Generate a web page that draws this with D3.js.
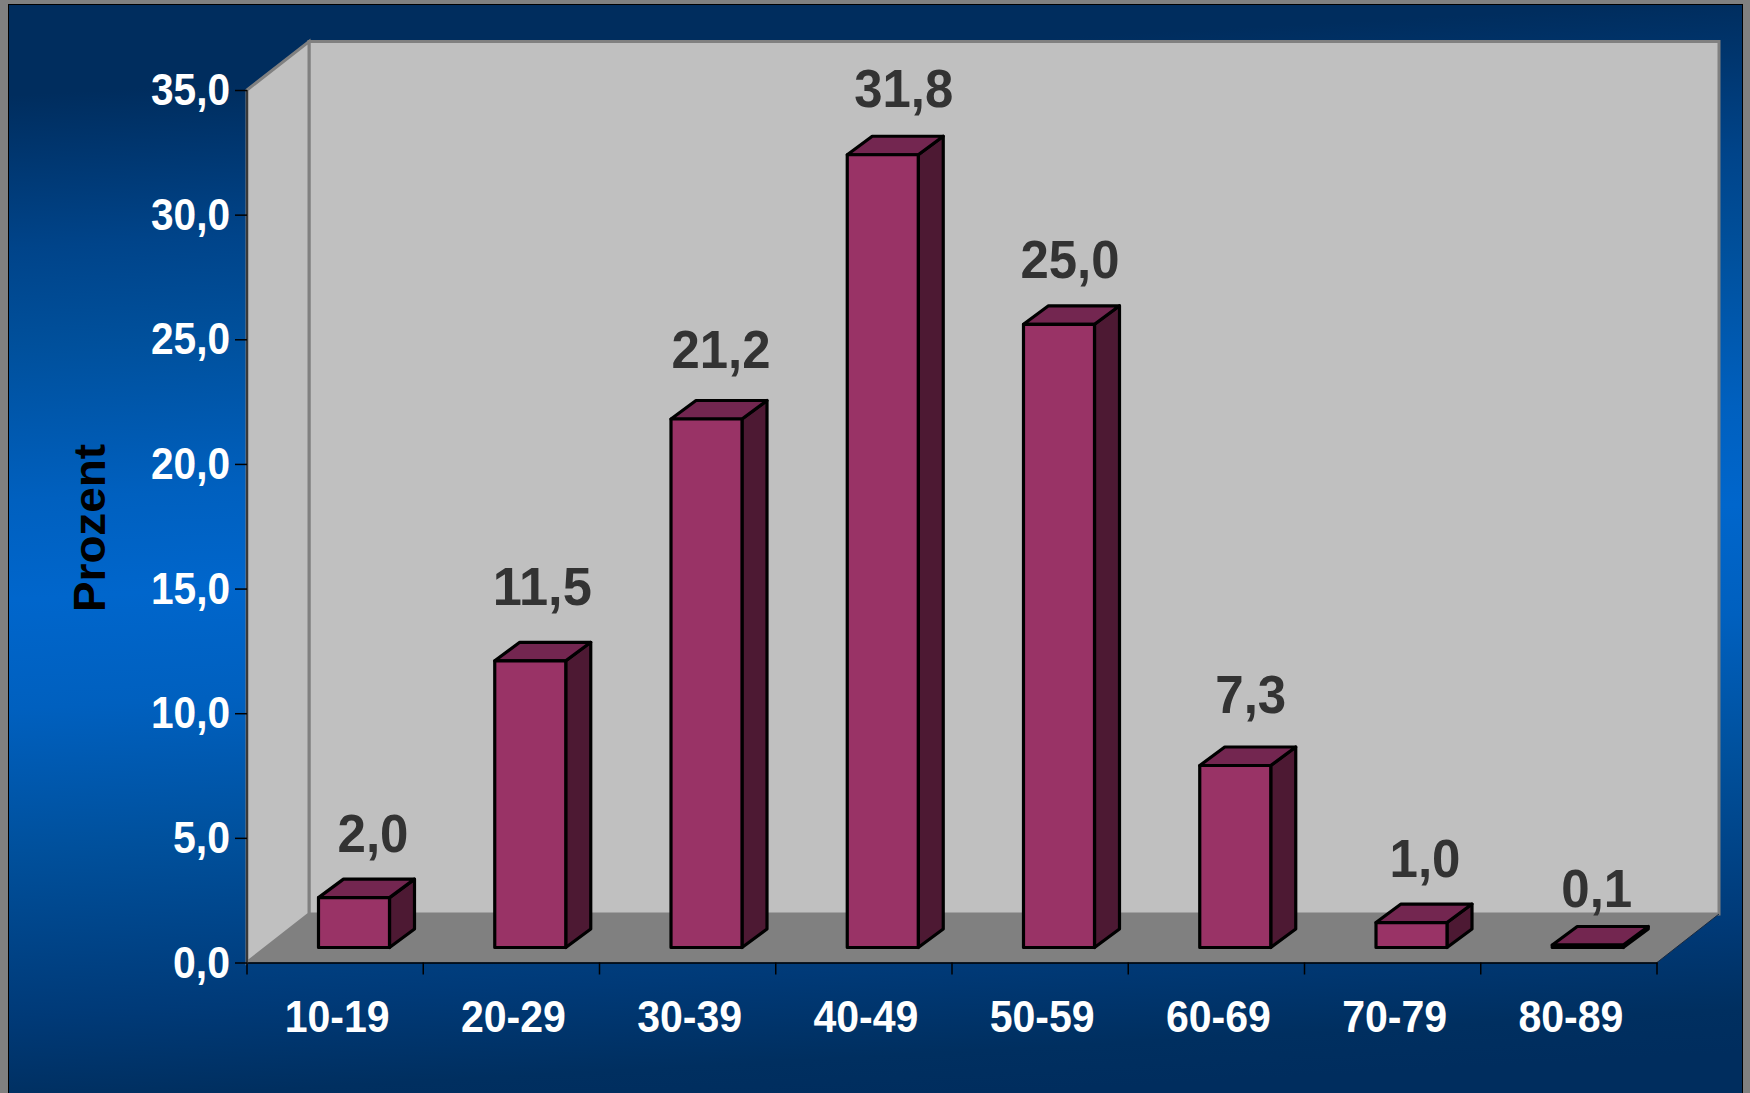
<!DOCTYPE html>
<html><head><meta charset="utf-8">
<script src="https://cdn.jsdelivr.net/npm/d3@7"></script>
<style>html,body{margin:0;padding:0;background:#808080;overflow:hidden}svg{display:block}
text{font-family:"Liberation Sans",Arial,sans-serif;font-weight:bold}</style></head>
<body><svg id="c" width="1750" height="1093"></svg>
<script>
const categories=["10-19","20-29","30-39","40-49","50-59","60-69","70-79","80-89"];
const values=[2.0,11.5,21.2,31.8,25.0,7.3,1.0,0.1];
const yTicks=[0,5,10,15,20,25,30,35];
const yTitle="Prozent";
const fmt=v=>v.toFixed(1).replace(".",",");

// hand placement of the value labels relative to their default spot
const labelShiftX=[0,-7,-4.5,2,-8,-3.5,-5.5,-10];
const labelShiftY=[0,-10,-5.5,-2,0,-6.5,0,8];

const svg=d3.select("#c");
const defs=svg.append("defs");
const g=defs.append("linearGradient").attr("id","bg").attr("gradientUnits","userSpaceOnUse")
  .attr("x1",845).attr("y1",5.5).attr("x2",905).attr("y2",1098.5);
[[0.04,"#002d5e"],[0.18,"#00448a"],[0.27,"#00509c"],[0.41,"#0060bf"],[0.5,"#0066cc"],[0.6,"#0060bf"],[0.73,"#00509c"],[0.88,"#003a78"],[0.96,"#002f60"],[1,"#002d5e"]]
  .forEach(s=>g.append("stop").attr("offset",s[0]).attr("stop-color",s[1]));

svg.append("rect").attr("x",8.5).attr("y",4.5).attr("width",1734).attr("height",1100).attr("fill","url(#bg)").attr("stroke","#000").attr("stroke-width",1);

const x0=247,x1=1657,dx=62,dy=-48.5;
const xScale=d3.scaleBand().domain(categories).range([x0,x1]);
const yAxisScale=d3.scaleLinear().domain([0,35]).range([962.5,90]);
const yBar=d3.scaleLinear().domain([0,35]).range([947.5,75]);
const y0=yAxisScale(0),yT=yAxisScale(35);

const poly=(pts,fill,stroke,sw)=>svg.append("polygon").attr("points",pts.map(p=>p.join(",")).join(" ")).attr("fill",fill).attr("stroke",stroke||"none").attr("stroke-width",sw||0).attr("stroke-linejoin","miter");
// walls and floor
poly([[x0+dx,yT+dy],[x1+dx,yT+dy],[x1+dx,y0+dy],[x0+dx,y0+dy]],"#c0c0c0","#808080",3);
poly([[x0,yT],[x0+dx,yT+dy],[x0+dx,y0+dy],[x0,y0]],"#c0c0c0","#808080",3);
poly([[x0,y0],[x0+dx,y0+dy],[x1+dx,y0+dy],[x1,y0]],"#808080");
svg.append("line").attr("x1",x1).attr("y1",y0).attr("x2",x1+dx).attr("y2",y0+dy).attr("stroke","#1a2a40").attr("stroke-width",1);
svg.append("line").attr("x1",x0).attr("y1",yT).attr("x2",x0).attr("y2",y0).attr("stroke","#222").attr("stroke-width",1.5);

// axes
const ax=svg.append("g").attr("transform",`translate(${x0},0)`).call(d3.axisLeft(yAxisScale).tickValues(yTicks).tickSize(12).tickFormat(fmt));
ax.select(".domain").remove();
ax.selectAll("line").attr("stroke","#000").attr("stroke-width",1.5);
ax.selectAll("text").attr("x",-17).attr("dy",0).attr("y",14.5).attr("fill","#fff").attr("font-size",44).attr("text-anchor","end")
  .attr("textLength",79).attr("lengthAdjust","spacingAndGlyphs");
ax.attr("font-family",null).attr("font-size",null);
ax.selectAll("text").filter(d=>d<10).attr("textLength",57);

const bx=svg.append("g").attr("transform",`translate(0,${y0})`).call(d3.axisBottom(xScale).tickSize(12).tickSizeOuter(0).tickFormat(d=>d));
bx.attr("font-family",null).attr("font-size",null);
bx.select(".domain").attr("stroke","#000").attr("stroke-width",1.5);
bx.selectAll(".tick line").attr("x1",-xScale.bandwidth()/2).attr("x2",-xScale.bandwidth()/2).attr("stroke","#000").attr("stroke-width",1.5);
bx.append("line").attr("x1",x1).attr("x2",x1).attr("y1",0).attr("y2",12).attr("stroke","#000").attr("stroke-width",1.5);
bx.selectAll(".tick text").attr("x",0).attr("y",0).attr("dy",0).attr("transform","translate(2,69)").attr("fill","#fff").attr("font-size",44)
  .attr("textLength",105).attr("lengthAdjust","spacingAndGlyphs");

// bars
const barOff=71.5,barW=71,bdx=25,bdy=-18.5;
const stroke="#000";
const bars=svg.append("g").selectAll("g").data(values).join("g");
bars.each(function(v,i){
  const s=d3.select(this);
  const l=xScale(categories[i])+barOff,r=l+barW,b=yBar(0),t=yBar(v);
  const P=(pts,fill)=>s.append("polygon").attr("points",pts.map(p=>p.join(",")).join(" ")).attr("fill",fill).attr("stroke",stroke).attr("stroke-width",3.2).attr("stroke-linejoin","round");
  P([[r,t],[r+bdx,t+bdy],[r+bdx,b+bdy],[r,b]],"#4d1933");
  P([[l,t],[l+bdx,t+bdy],[r+bdx,t+bdy],[r,t]],"#732650");
  P([[l,t],[r,t],[r,b],[l,b]],"#993366");
});
// data labels
svg.append("g").selectAll("text").data(values).join("text")
  .attr("x",(d,i)=>xScale(categories[i])+126+labelShiftX[i])
  .attr("y",(d,i)=>yBar(d)-46+labelShiftY[i])
  .attr("text-anchor","middle").attr("fill","#333").attr("font-size",54)
  .attr("textLength",d=>d>=10?99:71).attr("lengthAdjust","spacingAndGlyphs")
  .text(fmt);
// title
svg.append("text").attr("transform","translate(105,528) rotate(-90)").attr("text-anchor","middle").attr("fill","#000").attr("font-size",44).attr("textLength",168).attr("lengthAdjust","spacingAndGlyphs").text(yTitle);
</script></body></html>
